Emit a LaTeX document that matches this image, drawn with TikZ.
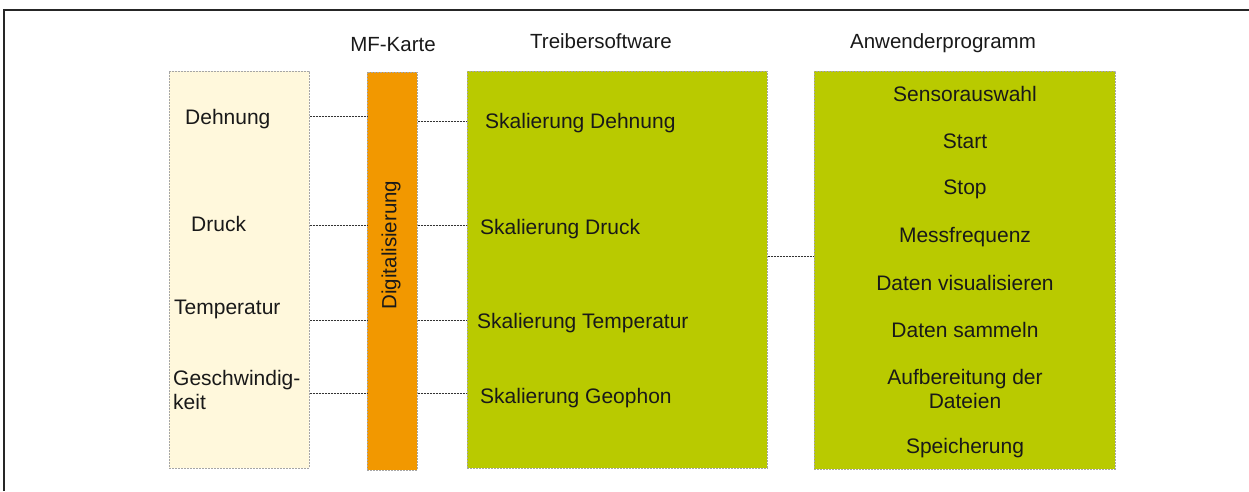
\documentclass[tikz,border=0pt]{standalone}
\usepackage{fontspec}
\setmainfont{Liberation Sans}
\begin{document}
\begin{tikzpicture}[x=1pt,y=-1pt,
  box/.style={draw=gray!70, dashed, dash pattern=on 2pt off 1pt, line width=0.7pt,
              anchor=north west, inner sep=0pt},
  link/.style={draw=black!80, dash pattern=on 2pt off 1pt, line width=1pt},
  lbl/.style={font=\fontsize{21}{24}\selectfont, inner sep=0pt, text=black!90, yshift=-2pt},
  head/.style={font=\fontsize{20.5}{24}\selectfont, inner sep=0pt, text=black!90}]
\definecolor{cream}{RGB}{255,248,220}
\definecolor{mforange}{RGB}{242,152,0}
\definecolor{lime}{RGB}{185,202,0}
\useasboundingbox (0,0) rectangle (1249,491);
% frame
\draw[line width=2pt, black!85] (4,491) -- (4,9.5) -- (1249,9.5);

% headings
\node[head] (h1) at (393,45) {MF-Karte};
\node[head] (h2) at (601,41) {Treibersoftware};
\node[head] (h3) at (943,43) {Anwenderprogramm};

% columns
\node[box, fill=cream, minimum width=140pt, minimum height=397pt] (sens) at (169,71) {};
\node[box, fill=mforange, minimum width=50pt, minimum height=398pt] (mf) at (367,72) {};
\node[box, fill=lime, minimum width=300pt, minimum height=397pt] (drv) at (467,71) {};
\node[box, fill=lime, minimum width=301pt, minimum height=398pt] (app) at (814,71) {};

\node[head, rotate=90] (dig) at (391,245) {Digitalisierung};

% sensors
\node[lbl, anchor=west] (s1) at (185,117) {Dehnung};
\node[lbl, anchor=west] (s2) at (191,222) {Druck};
\node[lbl, anchor=west] (s3) at (174,307) {Temperatur};
\node[lbl, anchor=west, align=left] (s4) at (173,388) {Geschwindig-\\keit};

% driver functions
\node[lbl, anchor=west] (d1) at (485,121) {Skalierung Dehnung};
\node[lbl, anchor=west] (d2) at (480,227) {Skalierung Druck};
\node[lbl, anchor=west] (d3) at (477,321) {Skalierung Temperatur};
\node[lbl, anchor=west] (d4) at (480,396) {Skalierung Geophon};

% application functions
\node[lbl] (a1) at (965,92) {Sensorauswahl};
\node[lbl] (a2) at (965,139) {Start};
\node[lbl] (a3) at (965,187) {Stop};
\node[lbl] (a4) at (965,235) {Messfrequenz};
\node[lbl] (a5) at (965,281) {Daten visualisieren};
\node[lbl] (a6) at (965,328) {Daten sammeln};
\node[lbl, align=center] (a7) at (965,387) {Aufbereitung der\\Dateien};
\node[lbl] (a8) at (965,446) {Speicherung};

% row levels of the connectors
\coordinate (r1) at (0,116);
\coordinate (q1) at (0,121);
\coordinate (r2) at (0,225);
\coordinate (r3) at (0,320);
\coordinate (r4) at (0,393);
\coordinate (r5) at (0,256);

\draw[link] (sens.east |- r1) -- (mf.west |- r1);
\draw[link] (mf.east |- q1) -- (drv.west |- q1);
\draw[link] (sens.east |- r2) -- (mf.west |- r2);
\draw[link] (mf.east |- r2) -- (drv.west |- r2);
\draw[link] (sens.east |- r3) -- (mf.west |- r3);
\draw[link] (mf.east |- r3) -- (drv.west |- r3);
\draw[link] (sens.east |- r4) -- (mf.west |- r4);
\draw[link] (mf.east |- r4) -- (drv.west |- r4);
\draw[link] (drv.east |- r5) -- (app.west |- r5);
\end{tikzpicture}
\end{document}
